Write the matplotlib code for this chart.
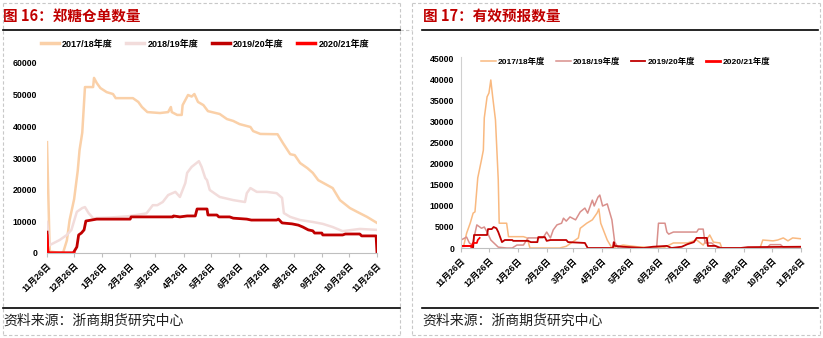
import matplotlib
matplotlib.use("Agg")
import matplotlib.pyplot as plt
from matplotlib.lines import Line2D

plt.rcParams['font.family'] = ['Liberation Sans', 'Noto Sans CJK SC', 'DejaVu Sans']

# month ticks (days after 11/26)
tick_days = [0, 30, 61, 92, 120, 151, 181, 212, 242, 273, 304, 334, 365]
tick_labels = ['11月26日', '12月26日', '1月26日', '2月26日', '3月26日', '4月26日',
               '5月26日', '6月26日', '7月26日', '8月26日', '9月26日', '10月26日', '11月26日']
season_names = ['2017/18年度', '2018/19年度', '2019/20年度', '2020/21年度']

# ---- warehouse receipts (left) ----
wr_1718_d = [0, 3, 15, 18, 22, 25, 30, 34, 36, 39, 42, 51, 52, 55, 59, 66, 73, 76, 95, 101,
             105, 111, 125, 134, 137, 138, 144, 149, 150, 156, 160, 163, 167, 173, 178, 191,
             199, 206, 213, 225, 228, 236, 255, 261, 269, 274, 280, 288, 294, 300, 316, 324,
             335, 343, 354, 365]
wr_1718_v = [35000, 500, 0, 300, 4000, 10400, 17000, 26000, 32500, 38000, 52400, 52400, 55300,
             53700, 52100, 50800, 50200, 48900, 48900, 47700, 46100, 44500, 44200, 44500, 46100,
             44500, 43600, 43600, 46700, 49900, 49400, 50200, 47700, 46700, 44800, 43900, 42300,
             41700, 40700, 39800, 38500, 37600, 37500, 34700, 31200, 30900, 28400, 26800, 25300,
             23000, 20500, 16700, 14200, 13000, 11400, 9500]

wr_1819_d = [0, 3, 14, 22, 27, 33, 39, 42, 46, 51, 70, 90, 110, 117, 122, 128, 134, 142, 147,
             153, 155, 160, 168, 171, 175, 177, 180, 191, 206, 219, 221, 225, 232, 243, 254,
             260, 262, 269, 280, 294, 305, 316, 327, 346, 365]
wr_1819_v = [9800, 2500, 4100, 5700, 7300, 13000, 14200, 14500, 12600, 11000, 11200, 11600,
             12500, 15100, 15100, 16100, 18300, 19300, 17700, 22100, 25300, 27200, 29000, 27200,
             23700, 23000, 19900, 17700, 16700, 16100, 18900, 20500, 19300, 19300, 18900, 17400,
             12600, 11400, 10400, 9800, 9200, 8200, 6900, 7600, 7300]

wr_1920_d = [0, 1, 29, 33, 35, 38, 41, 43, 55, 92, 93, 139, 140, 147, 155, 164, 166, 177, 178,
             188, 190, 202, 206, 221, 226, 254, 256, 260, 271, 278, 283, 289, 294, 296, 304,
             305, 327, 330, 346, 348, 364, 365]
wr_1920_v = [6600, 0, 0, 1900, 5700, 6300, 7300, 10100, 10700, 10700, 11400, 11400, 11700, 11400,
             11700, 11700, 13900, 13900, 12000, 12000, 11400, 11400, 11000, 10700, 10400, 10400,
             10700, 9500, 9200, 8800, 8200, 7300, 7000, 6300, 6300, 5700, 5700, 6000, 6000, 5400,
             5400, 0]

wr_2021_d = [0, 1, 3, 30]
wr_2021_v = [5500, 300, 0, 0]

# ---- valid forecasts (right) ----
fc_1718_d = [0, 3, 6, 10, 13, 15, 18, 22, 24, 25, 28, 30, 32, 34, 37, 40, 41, 49, 51, 67, 71,
             74, 106, 113, 126, 128, 135, 141, 146, 148, 150, 157, 162, 174, 189, 217, 228, 243,
             253, 260, 267, 271, 278, 280, 321, 324, 335, 340, 346, 351, 356, 365]
fc_1718_v = [300, 600, 3500, 6000, 8300, 8600, 16700, 21000, 23300, 31000, 36000, 36900, 40000,
             36000, 30500, 16200, 5900, 5900, 2700, 2700, 2400, 0, 0, 400, 2400, 4700, 5900,
             6700, 8300, 9300, 5900, 1900, 0, 700, 300, 0, 1200, 1200, 1900, 700, 3100, 1400,
             1200, 0, 0, 1900, 1700, 1900, 2400, 1700, 2400, 2200]

fc_1819_d = [0, 6, 9, 12, 15, 17, 22, 25, 28, 32, 40, 49, 55, 60, 67, 72, 88, 92, 96, 99, 103,
             108, 110, 113, 117, 123, 128, 133, 136, 141, 143, 147, 149, 152, 157, 162, 165,
             169, 210, 212, 219, 221, 223, 228, 253, 255, 260, 262, 269, 273, 281, 328, 332,
             343, 346, 365]
fc_1819_v = [1900, 2600, 1200, 700, 3500, 5500, 4700, 5000, 3800, 1900, 200, 0, 0, 700, 700,
             2400, 2400, 3800, 2400, 4300, 5500, 5900, 7100, 6400, 7400, 6700, 8600, 9500, 8300,
             11400, 10000, 12100, 12600, 10000, 10500, 6700, 1400, 0, 0, 5900, 5900, 3800, 3300,
             3800, 3800, 4500, 4500, 1200, 1200, 500, 0, 0, 800, 800, 200, 200]

fc_1920_d = [0, 12, 13, 14, 28, 29, 33, 35, 38, 40, 44, 47, 55, 56, 72, 75, 82, 83, 90, 92, 96,
             113, 115, 133, 136, 163, 164, 165, 174, 196, 206, 221, 226, 237, 243, 250, 253,
             264, 265, 273, 278, 300, 308, 365]
fc_1920_v = [500, 500, 0, 3100, 3100, 4500, 4500, 5000, 4700, 3800, 1400, 1900, 1900, 1700,
             1700, 1400, 1400, 2600, 2600, 1700, 1900, 1900, 1400, 1200, 0, 0, 1400, 500, 300, 0,
             300, 500, 0, 300, 900, 1400, 2400, 2400, 500, 500, 0, 0, 200, 300]

fc_2021_d = [0, 10, 11, 13, 17, 18, 20]
fc_2021_v = [400, 500, 200, 1200, 1200, 1900, 2400]

W, H = 823, 338
fig = plt.figure(figsize=(W / 100, H / 100), dpi=100)


def box(px, py, pw, ph):
    # pixel box (top-left origin) -> figure rect
    return [px / W, 1 - (py + ph) / H, pw / W, ph / H]


def hline(x0, x1, y, **kw):
    fig.add_artist(Line2D([x0 / W, x1 / W], [1 - y / H, 1 - y / H], **kw))


def vline(x, y0, y1, **kw):
    fig.add_artist(Line2D([x / W, x / W], [1 - y0 / H, 1 - y1 / H], **kw))


# dashed panel frames
dash = dict(color='#C8C8C8', lw=0.8, ls=(0, (3, 2)))
for x0, x1 in [(3, 400), (412, 820)]:
    hline(x0, x1, 3, **dash)
    hline(x0, x1, 335, **dash)
    vline(x0, 3, 335, **dash)
    vline(x1, 3, 335, **dash)
hline(400, 412, 30, **dash)

# titles and rules
title_kw = dict(color='#C00000', fontsize=10.5, fontweight='bold', va='center', ha='left',
                family=['Noto Sans CJK SC', 'DejaVu Sans'])
fig.text(3 / W, 1 - 16 / H, '图 16：郑糖仓单数量', **title_kw)
fig.text(423 / W, 1 - 16 / H, '图 17：有效预报数量', **title_kw)
hline(3, 400, 30, color='black', lw=1.2)
hline(422, 818, 30, color='black', lw=1.2)
hline(3, 400, 308, color='black', lw=1.2)
hline(422, 818, 308, color='black', lw=1.2)
src_kw = dict(fontsize=10, va='center', ha='left', color='#202020',
              family=['Noto Sans CJK SC', 'DejaVu Sans'])
fig.text(3 / W, 1 - 321 / H, '资料来源：浙商期货研究中心', **src_kw)
fig.text(422 / W, 1 - 321 / H, '资料来源：浙商期货研究中心', **src_kw)


def style_axes(ax, ymax, ystep, show_left, ypad):
    ax.set_xlim(0, 365)
    ax.set_ylim(0, ymax)
    ax.set_yticks(range(0, ymax + 1, ystep))
    ax.set_xticks(tick_days)
    ax.set_xticklabels(tick_labels, rotation=45, ha='right', rotation_mode='anchor')
    for lab in ax.get_xticklabels() + ax.get_yticklabels():
        lab.set_fontsize(6.3)
        lab.set_fontweight('bold')
    ax.tick_params(axis='y', length=0, pad=ypad)
    ax.tick_params(axis='x', length=3, color='#BFBFBF', pad=3)
    for s in ['top', 'right']:
        ax.spines[s].set_visible(False)
    ax.spines['left'].set_visible(show_left)
    ax.spines['left'].set_color('#D0D0D0')
    ax.spines['bottom'].set_color('#BFBFBF')
    ax.spines['bottom'].set_linewidth(0.8)
    ax.patch.set_alpha(0)


# left chart
ax1 = fig.add_axes(box(47, 63, 330, 190))
ax1.plot(wr_1718_d, wr_1718_v, color='#FAD0A8', lw=1.8, label=season_names[0])
ax1.plot(wr_1819_d, wr_1819_v, color='#F2DCDB', lw=1.8, label=season_names[1])
ax1.plot(wr_1920_d, wr_1920_v, color='#C00000', lw=2.0, label=season_names[2])
ax1.plot(wr_2021_d, wr_2021_v, color='#FF0000', lw=2.0, label=season_names[3])
style_axes(ax1, 60000, 10000, False, 7)
leg1 = fig.legend(*ax1.get_legend_handles_labels(), loc='center', ncol=4, frameon=False,
                  bbox_to_anchor=(205 / W, 1 - 44 / H), handlelength=2.0, handletextpad=0.35,
                  columnspacing=1.5, prop=dict(size=6.5, weight='bold'))
for h in leg1.get_lines():
    h.set_linewidth(2.5)

# right chart
ax2 = fig.add_axes(box(461, 59, 340, 189))
ax2.plot(fc_1718_d, fc_1718_v, color='#F9B980', lw=1.1, label=season_names[0])
ax2.plot(fc_1819_d, fc_1819_v, color='#D9908C', lw=1.1, label=season_names[1])
ax2.plot(fc_1920_d, fc_1920_v, color='#C00000', lw=1.3, label=season_names[2])
ax2.plot(fc_2021_d, fc_2021_v, color='#FF0000', lw=1.3, label=season_names[3])
style_axes(ax2, 45000, 5000, True, 5)
ax2.spines['left'].set_bounds(0, 45500)
leg2 = ax2.legend(loc='center', ncol=4, frameon=False, bbox_to_anchor=(626 / W, 1 - 62 / H),
                  bbox_transform=fig.transFigure, handlelength=1.7, handletextpad=0.3,
                  columnspacing=1.3, prop=dict(size=6, weight='bold'))
leg2.get_lines()[3].set_linewidth(2.0)

fig.savefig('out.png', dpi=100, facecolor='white')
